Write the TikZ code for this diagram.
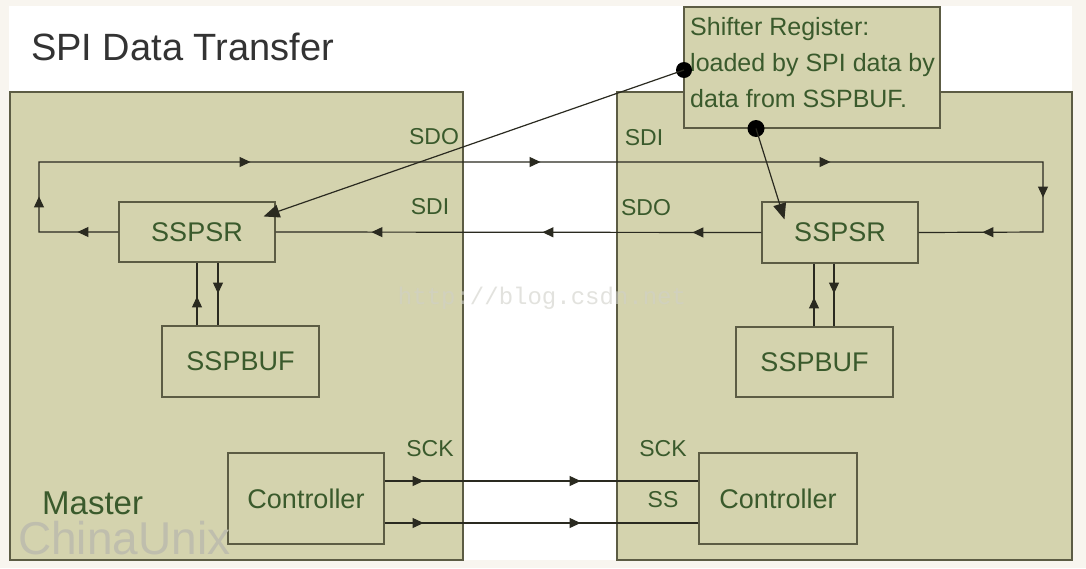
\documentclass[tikz,border=0pt]{standalone}
\usepackage{fontspec}
\setmainfont{Liberation Sans}
\newfontfamily\wmmono{Liberation Mono}
\usetikzlibrary{arrows.meta,decorations.markings}
\definecolor{cream}{HTML}{F8F5EF}
\definecolor{khaki}{HTML}{D4D3AE}
\definecolor{boxline}{HTML}{5C5C44}
\definecolor{wirec}{HTML}{2A2A20}
\definecolor{txtgreen}{HTML}{3A5A2C}
\definecolor{titlegray}{HTML}{333333}
\definecolor{wmark}{HTML}{BFBEAD}
\definecolor{wmarkb}{HTML}{D0D0C8}
\begin{document}
\begin{tikzpicture}[x=1pt,y=-1pt,
  panel/.style={draw=boxline,fill=khaki,line width=1.3pt,inner sep=0pt},
  block/.style={draw=boxline,fill=khaki,line width=1.1pt,text=txtgreen,
    font=\fontsize{27}{32}\selectfont,inner sep=0pt},
  lbl/.style={text=txtgreen,font=\fontsize{23}{27}\selectfont,inner sep=0pt},
  wire/.style={draw=wirec,line width=1.2pt},
  arr/.style={postaction={decorate,decoration={markings,
    mark=at position #1 with {\arrow[wirec]{Triangle[length=11pt,width=10pt]}}}}},
  bigtip/.style={-{Triangle[length=16pt,width=13pt]}},
  blob/.style={circle,fill=black,inner sep=0pt,minimum size=16pt}]
\useasboundingbox (0,0) rectangle (1086,568);
\fill[cream] (0,0) rectangle (1086,568);
\fill[white] (9,6) rectangle (1072,560);

% title
\node[anchor=base west,inner sep=0pt,text=titlegray,font=\fontsize{38}{44}\selectfont] (title) at (31,60) {SPI Data Transfer};

% panels
\node[panel,minimum width=453pt,minimum height=468pt] (master) at (236.5,326) {};
\node[panel,minimum width=455pt,minimum height=468pt] (slave) at (844.5,326) {};

% corner coordinates of the loop
\coordinate (lc1) at (39,232);
\coordinate (lc2) at (39,162);
\coordinate (rc1) at (1043,162);
\coordinate (rc2) at (1043,232);

% inner blocks
\node[block,minimum width=156pt,minimum height=60pt] (ssL) at (197,232) {SSPSR};
\node[block,minimum width=156pt,minimum height=61pt] (ssR) at (840,232.5) {SSPSR};
\node[block,minimum width=157pt,minimum height=71pt] (bufL) at (240.5,361.5) {SSPBUF};
\node[block,minimum width=157pt,minimum height=70pt] (bufR) at (814.5,362) {SSPBUF};
\node[block,minimum width=156pt,minimum height=91pt] (ctrlL) at (306,498.5) {Controller};
\node[block,minimum width=158pt,minimum height=91pt] (ctrlR) at (778,498.5) {Controller};

% data loop
\draw[wire,arr=41pt,arr=115pt,arr=361pt,arr=651pt,arr=941pt,arr=1189pt,arr=1284pt]
  (ssL.west) -- (lc1) -- (lc2) -- (rc1) -- (rc2) -- (ssR.east);
\draw[wire,arr=69pt,arr=219pt,arr=390pt] (ssR.west) -- (ssL.east);

% SSPSR <-> SSPBUF
\draw[wire,arr=29pt] ([xshift=-43.5pt]bufL.north) -- ([xshift=-43.5pt]bufL.north |- ssL.south);
\draw[wire,arr=31pt] ([xshift=-22.5pt]bufL.north |- ssL.south) -- ([xshift=-22.5pt]bufL.north);
\draw[wire,arr=29pt] ([xshift=-0.5pt]bufR.north) -- ([xshift=-0.5pt]bufR.north |- ssR.south);
\draw[wire,arr=30pt] ([xshift=19.5pt]bufR.north |- ssR.south) -- ([xshift=19.5pt]bufR.north);

% controller lines
\draw[wire,arr=39pt,arr=196pt] ([yshift=17.5pt]ctrlL.east) -- ([yshift=17.5pt]ctrlL.east -| ctrlR.west);
\draw[wire,arr=39pt,arr=196pt] ([yshift=-24.5pt]ctrlL.east) -- ([yshift=-24.5pt]ctrlL.east -| ctrlR.west);

% labels
\node[lbl] (sdoL) at (434,137) {SDO};
\node[lbl] (sdiL) at (430,207) {SDI};
\node[lbl] (sdiR) at (644,138) {SDI};
\node[lbl] (sdoR) at (646,208) {SDO};
\node[lbl] (sckL) at (430,449) {SCK};
\node[lbl] (sckR) at (663,449) {SCK};
\node[lbl] (ss) at (663,500) {SS};
\node[anchor=base west,inner sep=0pt,text=txtgreen,font=\fontsize{33}{38}\selectfont] (mlabel) at (42,514) {Master};

% watermark
\node[inner sep=0pt,text=wmarkb,text opacity=0.6,font=\wmmono\fontsize{24}{28}\selectfont] (wm2) at (542,298) {http://blog.csdn.net};

% shifter register note
\node[block,minimum width=256pt,minimum height=121pt] (shift) at (812,67.5) {};
\node[anchor=base west,inner sep=0pt,align=left,text=txtgreen,
  font=\fontsize{25}{36}\selectfont] (shifttext) at (690,107) {Shifter Register:\\loaded by SPI data by\\data from SSPBUF.};
\node[blob] (d1) at (684,70) {};
\node[blob,minimum size=17pt] (d2) at (756,128.5) {};
\draw[wire,bigtip] (d1.center) -- ([xshift=-12pt,yshift=-15pt]ssL.north east);
\draw[wire,bigtip] (d2.center) -- ([xshift=23pt,yshift=-18pt]ssR.north west);

\node[anchor=base west,inner sep=0pt,text=wmark,font=\fontsize{46}{52}\selectfont] (wm1) at (18,554) {ChinaUnix};
\end{tikzpicture}
\end{document}
